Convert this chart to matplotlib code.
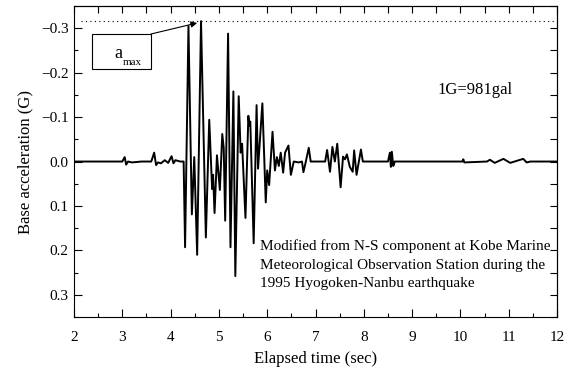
import matplotlib
matplotlib.use("Agg")
import matplotlib.pyplot as plt
from matplotlib.patches import Rectangle
from matplotlib.ticker import MultipleLocator, FuncFormatter

plt.rcParams['font.family'] = ['Liberation Serif', 'DejaVu Serif']

# elapsed time (sec) and base acceleration (G)
t = [2.00, 3.00, 3.05, 3.08, 3.12, 3.20, 3.40, 3.60, 3.66, 3.70, 3.74, 3.80,
     3.88, 3.95, 4.02, 4.06, 4.10, 4.20, 4.27, 4.30, 4.37, 4.44, 4.49, 4.55,
     4.63, 4.73, 4.80, 4.86, 4.88, 4.91, 4.96, 5.02, 5.07, 5.10, 5.13, 5.19,
     5.24, 5.30, 5.34, 5.41, 5.45, 5.48, 5.55, 5.61, 5.63, 5.65, 5.72, 5.78,
     5.81, 5.90, 5.97, 6.00, 6.04, 6.11, 6.16, 6.20, 6.24, 6.28, 6.33, 6.37,
     6.44, 6.49, 6.55, 6.65, 6.72, 6.75, 6.80, 6.86, 6.90, 7.20, 7.24, 7.30,
     7.35, 7.40, 7.45, 7.52, 7.57, 7.61, 7.65, 7.71, 7.77, 7.80, 7.85, 7.94,
     7.98, 8.50, 8.54, 8.56, 8.58, 8.61, 8.64, 10.04, 10.06, 10.08, 10.55,
     10.61, 10.71, 10.89, 11.03, 11.30, 11.37, 11.45, 12.00]
acc = [0.0, 0.0, -0.010, 0.007, 0.0, 0.002, 0.0, 0.0, -0.020, 0.008, 0.002, 0.004,
       -0.003, 0.003, -0.012, 0.004, -0.003, 0.0, 0.0, 0.193, -0.305, 0.119, -0.010, 0.210,
       -0.316, 0.171, -0.094, 0.062, 0.030, 0.116, -0.014, 0.064, -0.062, -0.030, 0.133, -0.288,
       0.193, -0.158, 0.258, -0.147, -0.020, -0.040, 0.127, -0.103, -0.080, -0.090, 0.184, -0.127,
       0.016, -0.131, 0.092, 0.020, 0.053, -0.067, 0.020, -0.010, 0.010, -0.020, 0.025, -0.020,
       -0.036, 0.030, 0.0, 0.002, 0.0, 0.024, 0.0, -0.031, 0.0, 0.0, -0.026, 0.023,
       -0.033, 0.0, -0.040, 0.058, -0.011, -0.005, -0.016, 0.012, 0.023, -0.025, 0.030, -0.027,
       0.0, 0.0, -0.020, 0.012, -0.022, 0.010, 0.0, 0.0, -0.005, 0.002, 0.0,
       -0.004, 0.003, -0.006, 0.003, -0.006, 0.002, 0.0, 0.0]
a_max = -0.316

fig = plt.figure(figsize=(5.69, 3.71), dpi=100)
ax = fig.add_axes([0.130, 0.1456, 0.849, 0.838])

ax.plot(t, acc, color='black', lw=1.4)
ax.hlines(a_max, 2.15, 11.95, colors='black', linestyles=(0, (1, 3)), lw=0.8)

ax.set_xlim(2, 12)
ax.set_ylim(0.35, -0.35)
ax.xaxis.set_major_locator(MultipleLocator(1))
ax.xaxis.set_minor_locator(MultipleLocator(0.5))
ax.yaxis.set_major_locator(MultipleLocator(0.1))
ax.yaxis.set_minor_locator(MultipleLocator(0.05))
ax.tick_params(which='major', direction='in', length=6, width=0.8, labelsize=11)
ax.tick_params(axis='x', which='major', pad=10)
ax.tick_params(axis='y', which='major', pad=4)
ax.tick_params(which='minor', direction='in', length=3, width=0.8)
ax.yaxis.set_major_formatter(FuncFormatter(lambda v, p: ('%.1f' % v).replace('-', '\u2212')))

top = ax.secondary_xaxis('top')
top.set_xticks([2 + 0.5 * i for i in range(21)])
top.tick_params(direction='in', length=5, width=0.8, labeltop=False)
right = ax.secondary_yaxis('right')
right.set_yticks([-0.35 + 0.05 * i for i in range(15)])
right.tick_params(direction='in', length=5, width=0.8, labelright=False)

ax.set_xlabel('Elapsed time (sec)', fontsize=12, labelpad=5)
ax.set_ylabel('Base acceleration (G)', fontsize=12, labelpad=5)

# a_max label box with arrow to the peak
ax.add_patch(Rectangle((2.37, -0.209), 1.22, -0.078, fill=False, lw=0.8, ec='black'))
ax.text(3.0, -0.234, 'a', ha='right', va='baseline', fontsize=13)
ax.text(3.0, -0.218, 'max', ha='left', va='baseline', fontsize=8)
ax.annotate('', xy=(4.55, -0.312), xytext=(3.59, -0.287),
            arrowprops=dict(arrowstyle='-|>', lw=0.8, color='black', mutation_scale=9,
                            shrinkA=0, shrinkB=0))

ax.text(9.52, -0.162, '1G=981gal', ha='left', va='center', fontsize=12)
ax.text(5.85, 0.176, 'Modified from N-S component at Kobe Marine\n'
        'Meteorological Observation Station during the\n'
        '1995 Hyogoken-Nanbu earthquake',
        ha='left', va='top', fontsize=11, linespacing=1.55)

fig.savefig('out.png', dpi=100)
